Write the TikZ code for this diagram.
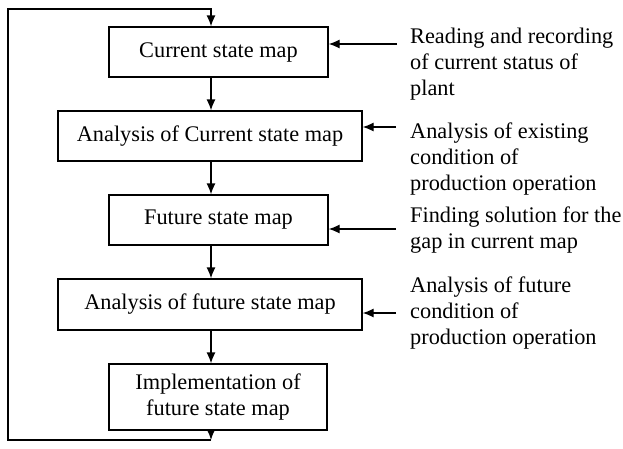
\documentclass[tikz,border=0pt]{standalone}
\usepackage{fontspec}
\setmainfont{Liberation Serif}
\usetikzlibrary{arrows.meta}
\tikzset{
  stagebox/.style = {draw, line width = 1.3pt, inner sep = 0pt, align = center,
    minimum height = 50pt, font = \fontsize{22.3}{26}\selectfont},
  notetext/.style = {anchor = north west, inner sep = 0pt, align = left,
    font = \fontsize{22.3}{26}\selectfont},
  flow/.style = {line width = 1.3pt, -{Latex[length = 11pt, width = 9pt]}}
}
\begin{document}
\begin{tikzpicture}[x = 1pt, y = -1pt]
      \useasboundingbox (0, 0) rectangle (623, 448);
      \node [stagebox, minimum width = 219pt] (current) at (218.5, 52) {Current state map};
      \node [stagebox, minimum width = 304pt] (anacur) at (210, 136) {Analysis of Current state map};
      \node [stagebox, minimum width = 219pt] (future) at (218.5, 220) {Future state map};
      \node [stagebox, minimum width = 304pt, minimum height = 51pt] (anafut) at (210, 304.5) {Analysis of future state map};
      \node [stagebox, minimum width = 218pt, minimum height = 66pt] (implement) at (218, 397) {Implementation of\\future state map};
      \node [notetext] (read) at (410, 28) {Reading and recording\\of current status of\\plant};
      \node [notetext] (exist) at (410, 123) {Analysis of existing\\condition of\\production operation};
      \node [notetext] (gap) at (410, 206.5) {Finding solution for the\\gap in current map};
      \node [notetext] (fcond) at (410, 277) {Analysis of future\\condition of\\production operation};
      \coordinate (spine) at (211, 9);
      \coordinate (corner) at (8, 9);
      \coordinate (low) at (8, 440);
      \coordinate (back) at (211, 440);
      \draw [flow] (current.south -| spine) -- (anacur.north -| spine);
      \draw [flow] (anacur.south -| spine) -- (future.north -| spine);
      \draw [flow] (future.south -| spine) -- (anafut.north -| spine);
      \draw [flow] (anafut.south -| spine) -- (implement.north -| spine);
      \draw [flow] (implement.south -| spine) -- (back);
      \draw [flow] (back) -- (low) -- (corner) -- (spine) -- (current.north -| spine);
      \coordinate (r1) at (397, 44);
      \coordinate (r2) at (396, 127);
      \coordinate (r3) at (396, 229);
      \coordinate (r4) at (396, 313);
      \draw [flow] (r1) -- (r1 -| current.east);
      \draw [flow] (r2) -- (r2 -| anacur.east);
      \draw [flow] (r3) -- (r3 -| future.east);
      \draw [flow] (r4) -- (r4 -| anafut.east);
    \end{tikzpicture}
\end{document}
